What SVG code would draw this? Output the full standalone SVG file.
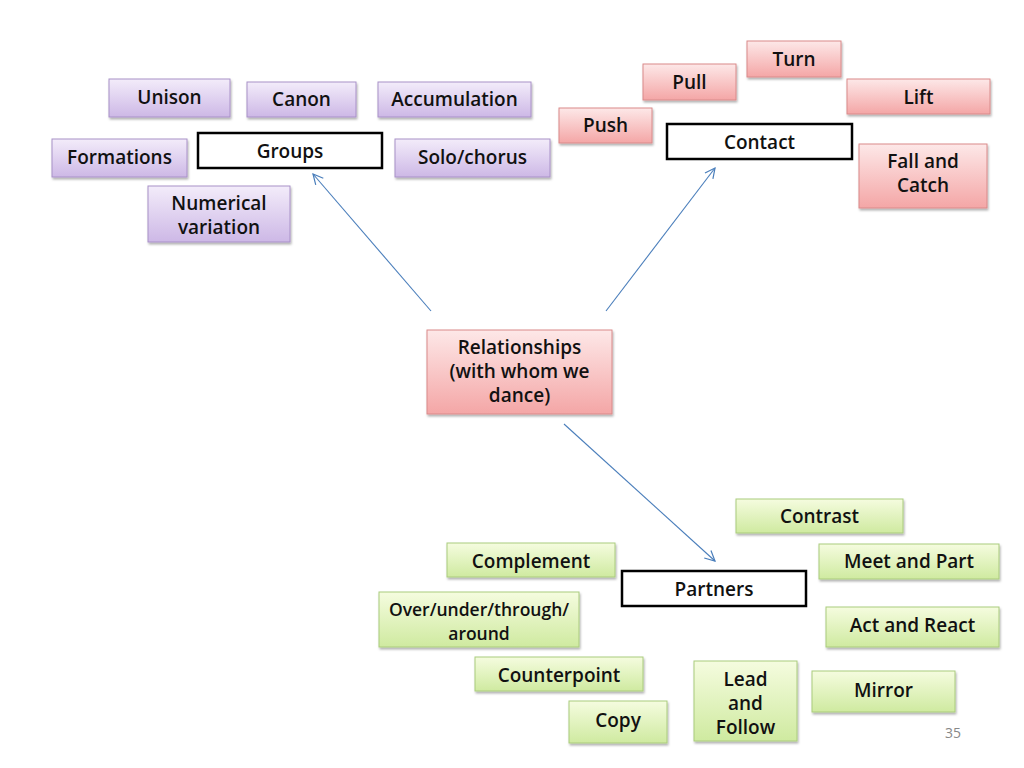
<svg xmlns="http://www.w3.org/2000/svg" width="1024" height="768" viewBox="0 0 1024 768">
<defs>
<linearGradient id="gP" x1="0" y1="0" x2="0" y2="1"><stop offset="0" stop-color="#f3ecfa"/><stop offset="1" stop-color="#cdb8e6"/></linearGradient>
<linearGradient id="gR" x1="0" y1="0" x2="0" y2="1"><stop offset="0" stop-color="#fde8e8"/><stop offset="1" stop-color="#f4a6a6"/></linearGradient>
<linearGradient id="gG" x1="0" y1="0" x2="0" y2="1"><stop offset="0" stop-color="#f5fcdf"/><stop offset="1" stop-color="#cfeaa0"/></linearGradient>
<filter id="sh" x="-10%" y="-10%" width="130%" height="140%"><feDropShadow dx="1" dy="2" stdDeviation="1.2" flood-color="#000" flood-opacity="0.3"/></filter>
<marker id="ar" viewBox="0 0 12 12" refX="11" refY="6" markerWidth="12" markerHeight="12" markerUnits="userSpaceOnUse" orient="auto"><path d="M1,1 L11,6 L1,11" fill="none" stroke="#4a7ebb" stroke-width="1.2"/></marker>
<style>
.p{fill:url(#gP);stroke:#a891c8;stroke-width:1;filter:url(#sh)}
.r{fill:url(#gR);stroke:#d98a8a;stroke-width:1;filter:url(#sh)}
.g{fill:url(#gG);stroke:#aacb7c;stroke-width:1;filter:url(#sh)}
.w{fill:#fff;stroke:#000;stroke-width:2.5}
text{font-family:"Open Sans","DejaVu Sans",sans-serif;font-weight:600;font-size:19px;fill:#111;text-anchor:middle}
.s{font-size:17.5px}
.n{font-weight:400;font-size:14px;fill:#888}
.c{stroke:#4a7ebb;stroke-width:1.1;fill:none;marker-end:url(#ar)}
</style>
</defs>
<rect width="1024" height="768" fill="#fff"/>
<g id="connectors">
<line class="c" x1="431" y1="311" x2="313" y2="174"/>
<line class="c" x1="606" y1="311" x2="715" y2="168"/>
<line class="c" x1="564" y1="424" x2="715" y2="561"/>
</g>
<g id="unison"><rect class="p" x="109" y="79" width="121" height="38"/><text x="169.5" y="104">Unison</text></g>
<g id="canon"><rect class="p" x="247" y="82" width="109" height="35"/><text x="301.5" y="106">Canon</text></g>
<g id="accumulation"><rect class="p" x="378" y="82" width="153" height="35"/><text x="454.5" y="106">Accumulation</text></g>
<g id="formations"><rect class="p" x="52" y="139" width="135" height="38"/><text x="119.5" y="164">Formations</text></g>
<g id="groups"><rect class="w" x="198" y="133" width="184" height="35"/><text x="290" y="158">Groups</text></g>
<g id="solo"><rect class="p" x="395" y="139" width="155" height="38"/><text x="472.5" y="164">Solo/chorus</text></g>
<g id="numerical"><rect class="p" x="148" y="186" width="142" height="56"/><text x="219" y="210">Numerical</text><text x="219" y="234">variation</text></g>
<g id="turn"><rect class="r" x="747" y="41" width="94" height="36"/><text x="794" y="66">Turn</text></g>
<g id="pull"><rect class="r" x="643" y="64" width="93" height="36"/><text x="689.5" y="89">Pull</text></g>
<g id="lift"><rect class="r" x="847" y="79" width="143" height="35"/><text x="918.5" y="104">Lift</text></g>
<g id="push"><rect class="r" x="559" y="108" width="93" height="35"/><text x="605.5" y="132">Push</text></g>
<g id="contact"><rect class="w" x="667" y="124" width="185" height="35"/><text x="759.5" y="149">Contact</text></g>
<g id="fall"><rect class="r" x="859" y="144" width="128" height="64"/><text x="923" y="168">Fall and</text><text x="923" y="192">Catch</text></g>
<g id="relationships"><rect class="r" x="427" y="330" width="185" height="84"/><text x="519.5" y="354">Relationships</text><text x="519.5" y="378">(with whom we</text><text x="519.5" y="402">dance)</text></g>
<g id="contrast"><rect class="g" x="736" y="499" width="167" height="34"/><text x="819.5" y="523">Contrast</text></g>
<g id="complement"><rect class="g" x="447" y="543" width="168" height="34"/><text x="531" y="568">Complement</text></g>
<g id="meet"><rect class="g" x="819" y="544" width="180" height="35"/><text x="909" y="568">Meet and Part</text></g>
<g id="partners"><rect class="w" x="622" y="571" width="184" height="35"/><text x="714" y="596">Partners</text></g>
<g id="over"><rect class="g" x="379" y="592" width="200" height="55"/><text class="s" x="479" y="616">Over/under/through/</text><text class="s" x="479" y="640">around</text></g>
<g id="act"><rect class="g" x="826" y="607" width="173" height="40"/><text x="912.5" y="632">Act and React</text></g>
<g id="counterpoint"><rect class="g" x="475" y="657" width="168" height="34"/><text x="559" y="682">Counterpoint</text></g>
<g id="lead"><rect class="g" x="694" y="661" width="103" height="80"/><text x="745.5" y="686">Lead</text><text x="745.5" y="710">and</text><text x="745.5" y="734">Follow</text></g>
<g id="mirror"><rect class="g" x="812" y="671" width="143" height="41"/><text x="883.5" y="697">Mirror</text></g>
<g id="copy"><rect class="g" x="569" y="701" width="98" height="42"/><text x="618" y="727">Copy</text></g>
<text class="n" x="953" y="738">35</text>
</svg>
